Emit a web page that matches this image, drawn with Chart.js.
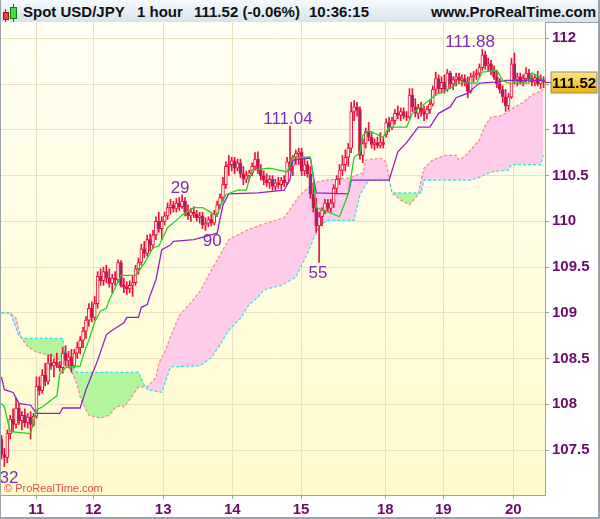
<!DOCTYPE html>
<html><head><meta charset="utf-8">
<script src="https://cdn.jsdelivr.net/npm/chart.js@4/dist/chart.umd.min.js"></script>
<style>
html,body{margin:0;padding:0;background:#fff;width:600px;height:519px;overflow:hidden;font-family:"Liberation Sans",Arial,sans-serif;}
#hdr{position:absolute;left:0;top:0;width:600px;height:23px;background:linear-gradient(#f6fafd,#d6e4ec);border-bottom:1px solid #9aa4aa;box-sizing:border-box;}
#hdr span.t{position:absolute;top:3px;font-weight:bold;font-size:15px;color:#111;line-height:17px;white-space:nowrap;}
.cw{position:absolute;width:1px;}
.cb{position:absolute;box-sizing:border-box;}
#wrap{position:absolute;left:0;top:22px;width:600px;height:497px;}
#frame{position:absolute;left:0;top:0;width:600px;height:519px;box-sizing:border-box;border-left:1px solid #9aa4aa;border-right:2px solid #9aa4aa;border-bottom:2px solid #9aa4aa;pointer-events:none;}
</style></head>
<body>
<div id="hdr">
  <div class="cw" style="left:5px;top:9px;height:13px;background:#c02020"></div>
  <div class="cb" style="left:3px;top:12px;width:6px;height:8px;background:#f04040;border:1px solid #a01010"></div>
  <div class="cw" style="left:13px;top:4px;height:18px;background:#108010"></div>
  <div class="cb" style="left:10px;top:7px;width:7px;height:12px;background:#40e040;border:1px solid #108010"></div>
  <span class="t" style="left:23px">Spot USD/JPY</span>
  <span class="t" style="left:137px">1 hour</span>
  <span class="t" style="left:194px">111.52 (-0.06%)</span>
  <span class="t" style="left:309px">10:36:15</span>
  <span class="t" style="right:4px">www.ProRealTime.com</span>
</div>
<div id="wrap"><canvas id="c" width="600" height="497"></canvas></div>
<div id="frame"></div>
<script>
// ---- Data (hourly candles, slot index = hour) ----
const dayTickSlots = [11.9, 31.5, 55.5, 79.2, 102.8, 131.7, 151.6, 175.6];
const dayLabels = ['11','12','13','14','15','18','19','20'];
const priceTicks = [107.5,108,108.5,109,109.5,110,110.5,111,111.5,112];

const opens = [107.62,107.45,107.42,107.68,107.84,107.78,107.96,107.82,107.88,107.80,107.86,107.78,107.87,108.20,108.15,108.32,108.25,108.45,108.42,108.46,
108.43,108.40,108.56,108.48,108.52,108.42,108.56,108.62,108.70,108.80,108.92,109.05,108.95,109.10,109.40,109.35,109.45,109.38,109.32,109.38,
109.36,109.55,109.30,109.28,109.26,109.30,109.33,109.48,109.55,109.70,109.65,109.80,109.74,109.85,110.00,109.92,110.00,110.06,110.15,110.18,
110.14,110.20,110.16,110.22,110.10,110.06,110.10,110.08,110.04,110.06,109.96,109.98,110.02,109.98,110.08,110.18,110.26,110.40,110.60,110.62,
110.66,110.58,110.64,110.52,110.46,110.50,110.53,110.60,110.68,110.56,110.50,110.45,110.42,110.46,110.38,110.42,110.40,110.45,110.42,110.65,
110.60,110.70,110.74,110.76,110.55,110.62,110.52,110.30,110.15,109.95,110.05,110.12,110.20,110.14,110.20,110.36,110.46,110.56,110.62,110.70,
110.80,111.20,111.25,111.22,110.72,110.85,110.98,110.92,110.84,110.86,110.83,110.86,110.95,111.08,111.02,111.10,111.18,111.16,111.20,111.15,
111.14,111.38,111.25,111.18,111.24,111.20,111.17,111.22,111.28,111.44,111.56,111.45,111.52,111.44,111.62,111.50,111.55,111.58,111.54,111.56,
111.52,111.42,111.58,111.60,111.62,111.68,111.82,111.70,111.72,111.65,111.58,111.50,111.44,111.36,111.26,111.36,111.72,111.55,111.58,111.52,
111.56,111.62,111.55,111.52,111.57,111.50,111.55];
const highs = [107.66,107.52,107.72,107.88,107.95,108.07,108.00,107.92,107.95,107.90,107.92,107.90,108.30,108.30,108.38,108.45,108.54,108.55,108.50,108.56,
108.47,108.62,108.64,108.58,108.60,108.60,108.68,108.74,108.84,108.96,109.10,109.12,109.18,109.45,109.48,109.50,109.52,109.48,109.42,109.45,
109.58,109.57,109.38,109.34,109.35,109.40,109.52,109.60,109.75,109.78,109.85,109.86,109.90,110.05,110.10,110.05,110.10,110.20,110.24,110.22,
110.25,110.26,110.29,110.26,110.18,110.14,110.16,110.12,110.10,110.10,110.04,110.05,110.08,110.12,110.22,110.30,110.48,110.65,110.72,110.70,
110.70,110.68,110.68,110.60,110.55,110.56,110.64,110.75,110.76,110.62,110.55,110.52,110.50,110.50,110.46,110.48,110.48,110.50,110.70,111.04,
110.72,110.78,110.80,110.80,110.68,110.66,110.60,110.42,110.25,110.10,110.15,110.24,110.24,110.24,110.40,110.50,110.62,110.72,110.78,110.85,
111.30,111.32,111.30,111.25,110.90,111.02,111.08,110.98,110.90,110.92,110.97,110.92,111.12,111.14,111.14,111.22,111.26,111.24,111.24,111.20,
111.45,111.45,111.34,111.28,111.30,111.26,111.26,111.32,111.48,111.63,111.60,111.58,111.60,111.66,111.64,111.58,111.62,111.62,111.60,111.60,
111.58,111.62,111.64,111.66,111.72,111.88,111.86,111.78,111.76,111.70,111.64,111.56,111.48,111.44,111.40,111.78,111.84,111.62,111.62,111.60,
111.68,111.66,111.60,111.60,111.64,111.60,111.58];
const lows = [107.40,107.32,107.36,107.62,107.70,107.74,107.78,107.72,107.75,107.74,107.62,107.76,107.85,108.10,108.12,108.20,108.22,108.38,108.30,108.40,
108.36,108.34,108.42,108.40,108.35,108.40,108.50,108.55,108.62,108.72,108.85,108.90,108.92,109.05,109.30,109.30,109.33,109.28,109.22,109.30,
109.33,109.28,109.22,109.20,109.22,109.18,109.30,109.42,109.52,109.60,109.62,109.68,109.70,109.80,109.88,109.80,109.96,110.02,110.08,110.10,
110.10,110.12,110.14,110.06,110.02,110.00,110.04,110.00,109.98,109.92,109.90,109.94,109.95,109.96,110.05,110.14,110.22,110.36,110.50,110.55,
110.52,110.55,110.48,110.40,110.42,110.44,110.50,110.56,110.52,110.45,110.40,110.38,110.36,110.34,110.34,110.36,110.35,110.38,110.40,110.55,
110.50,110.62,110.62,110.50,110.50,110.48,110.25,110.10,109.88,109.55,109.95,110.08,110.10,110.10,110.15,110.30,110.40,110.50,110.55,110.60,
110.75,111.10,111.15,110.68,110.64,110.80,110.88,110.80,110.78,110.80,110.80,110.80,110.92,110.98,111.00,111.06,111.12,111.10,111.12,111.10,
111.12,111.20,111.14,111.12,111.15,111.10,111.12,111.18,111.26,111.38,111.40,111.40,111.40,111.42,111.45,111.44,111.48,111.50,111.48,111.48,
111.35,111.40,111.52,111.55,111.58,111.65,111.66,111.64,111.60,111.55,111.46,111.40,111.30,111.20,111.22,111.34,111.50,111.48,111.50,111.48,
111.52,111.52,111.48,111.48,111.48,111.45,111.46];
const closes = [107.45,107.42,107.68,107.84,107.78,107.96,107.82,107.88,107.80,107.86,107.78,107.87,108.20,108.15,108.32,108.25,108.45,108.42,108.46,108.43,
108.40,108.56,108.48,108.52,108.42,108.56,108.62,108.70,108.80,108.92,109.05,108.95,109.10,109.40,109.35,109.45,109.38,109.32,109.38,109.36,
109.55,109.30,109.28,109.26,109.30,109.33,109.48,109.55,109.70,109.65,109.80,109.74,109.85,110.00,109.92,110.00,110.06,110.15,110.18,110.14,
110.20,110.16,110.22,110.10,110.06,110.10,110.08,110.04,110.06,109.96,109.98,110.02,109.98,110.08,110.18,110.26,110.40,110.60,110.62,110.66,
110.58,110.64,110.52,110.46,110.50,110.53,110.60,110.68,110.56,110.50,110.45,110.42,110.46,110.38,110.42,110.40,110.45,110.42,110.65,110.60,
110.70,110.74,110.76,110.55,110.62,110.52,110.30,110.15,109.95,110.05,110.12,110.20,110.14,110.20,110.36,110.46,110.56,110.62,110.70,110.80,
111.20,111.25,111.22,110.72,110.85,110.98,110.92,110.84,110.86,110.83,110.86,110.84,111.08,111.02,111.10,111.18,111.16,111.20,111.15,111.14,
111.38,111.25,111.18,111.24,111.20,111.17,111.22,111.28,111.44,111.56,111.45,111.52,111.44,111.62,111.50,111.55,111.58,111.54,111.56,111.52,
111.42,111.58,111.60,111.62,111.68,111.82,111.70,111.72,111.65,111.58,111.50,111.44,111.36,111.26,111.36,111.72,111.55,111.58,111.52,111.56,
111.62,111.55,111.52,111.57,111.50,111.55,111.52];

// Ichimoku lines: [slot, price]
const tenkan = [[0,108.01],[1,107.97],[3,107.70],[10,107.68],[12,107.94],[14,107.97],[18,108.07],[19,108.09],[20,108.33],[22,108.40],[27,108.42],[28,108.53],[29,108.62],[30,108.70],[32,108.90],[34,109.02],[36,109.05],[37,109.14],[40,109.34],[41,109.41],[46,109.41],[49,109.54],[52,109.71],[54,109.73],[57,109.93],[60,110.01],[62,110.07],[66,110.15],[69,110.15],[74,110.06],[75,110.16],[77,110.29],[81,110.34],[84,110.34],[86,110.56],[92,110.58],[98,110.54],[100,110.70],[106,110.70],[107,110.48],[108,110.15],[113,110.09],[116,110.05],[119,110.30],[121,110.70],[123,110.75],[124,110.94],[126,110.99],[131,110.92],[133,111.03],[139,111.03],[141,111.18],[145,111.28],[149,111.38],[155,111.47],[156,111.51],[163,111.51],[165,111.63],[170,111.65],[172,111.54],[174,111.51],[181,111.51],[182,111.62],[185,111.57],[186,111.54]];
const kijun = [[0,108.30],[1,108.16],[4,108.13],[6,108.01],[10,107.99],[12,107.90],[20,107.90],[21,107.96],[27,107.96],[29,108.16],[33,108.48],[36,108.76],[38,108.81],[42,108.89],[43,108.95],[47,108.95],[48,109.06],[50,109.09],[51,109.19],[53,109.36],[54,109.52],[55,109.69],[58,109.74],[59,109.78],[66,109.80],[74,109.87],[76,110.18],[78,110.30],[88,110.31],[97,110.34],[99,110.45],[100,110.67],[106,110.69],[108,110.31],[119,110.30],[120,110.45],[133,110.45],[136,110.76],[139,110.86],[143,111.03],[147,111.03],[150,111.18],[154,111.25],[156,111.35],[160,111.40],[164,111.51],[170,111.52],[173,111.54],[186,111.54]];
const spanA = [[0,109.00],[3,109.00],[5,108.94],[6,108.81],[7,108.72],[9,108.63],[12,108.57],[16,108.54],[19,108.51],[21,108.46],[24,108.37],[26,108.21],[27,108.08],[29,107.94],[30,107.88],[34,107.85],[37,107.88],[39,107.96],[41,107.99],[42,107.97],[44,108.05],[47,108.19],[50,108.19],[53,108.29],[54,108.45],[56,108.57],[58,108.74],[61,108.97],[65,109.11],[68,109.23],[73,109.52],[78,109.80],[84,109.90],[89,109.96],[97,110.04],[102,110.27],[107,110.42],[111,110.45],[119,110.47],[124,110.53],[125,110.67],[130,110.69],[132,110.65],[133,110.48],[134,110.31],[137,110.23],[140,110.18],[143,110.29],[144,110.45],[145,110.58],[148,110.67],[152,110.72],[156,110.72],[157,110.67],[159,110.71],[161,110.78],[164,110.89],[166,111.05],[168,111.14],[171,111.15],[173,111.18],[176,111.25],[179,111.30],[182,111.38],[186,111.44]];
const spanB = [[0,109.00],[3,109.00],[6,108.75],[7,108.72],[21,108.72],[22,108.48],[26,108.35],[47,108.35],[49,108.21],[50,108.16],[55,108.13],[58,108.41],[68,108.42],[72,108.51],[75,108.65],[78,108.81],[82,108.94],[85,109.09],[88,109.17],[90,109.25],[96,109.30],[101,109.39],[105,109.65],[107,109.80],[109,109.95],[112,110.01],[121,110.01],[123,110.29],[125,110.40],[126,110.45],[133,110.45],[134,110.31],[144,110.31],[145,110.45],[161,110.45],[164,110.48],[168,110.54],[174,110.56],[175,110.62],[185,110.62],[186,110.72]];

// High/low annotations: [slot, price, text, side]
const hiLoNotes = [[2.6,107.32,'32','below'],[61.3,110.29,'29','above'],[72.3,109.90,'90','below'],[98.3,111.04,'111.04','above'],[108.6,109.55,'55','below'],[160.8,111.88,'111.88','above']];
const lastPrice = 111.52;

// ---- build datasets ----
const slots = closes.map((_, i) => i);
const pts = arr => arr.map(p => ({x: p[0], y: p[1]}));
const RED = '#ee0f3c';

const bgPlugin = {
  id: 'bg',
  beforeDraw(chart) {
    const {ctx, chartArea: a} = chart;
    const g = ctx.createLinearGradient(0, a.top, 0, a.bottom);
    g.addColorStop(0, '#fffff4');
    g.addColorStop(1, '#fffbcc');
    ctx.save(); ctx.fillStyle = g; ctx.fillRect(a.left, a.top, a.right - a.left, a.bottom - a.top); ctx.restore();
  },
  afterDraw(chart) {
    const {ctx, chartArea: a, scales: {x, y}} = chart;
    ctx.save();
    // notes
    ctx.font = '17px "Liberation Sans", Arial, sans-serif';
    ctx.fillStyle = '#7d2cc0';
    ctx.textAlign = 'center';
    ctx.textBaseline = 'alphabetic';
    for (const n of hiLoNotes) {
      const px = x.getPixelForValue(n[0]);
      const py = y.getPixelForValue(n[1]);
      ctx.fillText(n[2], px, n[3] === 'above' ? py - 2 : py + 16);
    }
    // copyright
    ctx.font = '11px "Liberation Sans", Arial, sans-serif';
    ctx.fillStyle = '#e2504a';
    ctx.textAlign = 'left';
    ctx.fillText('\u00a9 ProRealTime.com', a.left + 4, a.bottom - 3);
    // price tag
    const py = Math.round(y.getPixelForValue(lastPrice)) + 0.5;
    ctx.strokeStyle = '#5a2a6a'; ctx.lineWidth = 1;
    ctx.beginPath(); ctx.moveTo(a.right, py); ctx.lineTo(a.right + 7, py); ctx.stroke();
    const bx = a.right + 6, bw = 46, bh = 21, by = py - 10.5;
    const g = ctx.createLinearGradient(0, by, 0, by + bh);
    g.addColorStop(0, '#ffe680'); g.addColorStop(1, '#f0b400');
    ctx.fillStyle = g; ctx.fillRect(bx, by, bw, bh);
    ctx.strokeStyle = '#8c8c8c'; ctx.strokeRect(bx, by, bw, bh);
    ctx.fillStyle = '#000';
    ctx.font = 'bold 15px "Liberation Sans", Arial, sans-serif';
    ctx.textAlign = 'center'; ctx.textBaseline = 'middle';
    ctx.fillText(lastPrice.toFixed(2), bx + bw / 2, py + 1);
    ctx.restore();
  }
};

const axisFont = {family: '"Liberation Sans", Arial, sans-serif', size: 15, weight: 'bold'};
const GRID = '#e8e3bc';
const AXIS = '#9aa4a8';

new Chart(document.getElementById('c'), {
  type: 'bar',
  data: {
    datasets: [
      {type: 'line', label: 'Tenkan', data: pts(tenkan), borderColor: '#1fd41f', borderWidth: 1.3, pointRadius: 0, tension: 0, fill: false, order: 1},
      {type: 'line', label: 'Kijun', data: pts(kijun), borderColor: '#8e22c8', borderWidth: 1.3, pointRadius: 0, tension: 0, fill: false, order: 1},
      {type: 'bar', label: 'Body', data: slots.map(i => ({x: i, y: [opens[i], closes[i]]})), barThickness: 3, grouped: false,
        borderWidth: 1, borderColor: RED, borderSkipped: false,
        backgroundColor: c => (closes[c.dataIndex] < opens[c.dataIndex] ? '#8a2a7a' : '#fffbe4'), order: 2},
      {type: 'bar', label: 'Wick', data: slots.map(i => ({x: i, y: [lows[i], highs[i]]})), barThickness: 1, grouped: false,
        backgroundColor: RED, borderWidth: 0, order: 3},
      {type: 'line', label: 'Span A', data: pts(spanA), borderColor: '#ef8a86', borderWidth: 1.2, borderDash: [3, 2], pointRadius: 0, tension: 0,
        fill: {target: 5, above: '#ffcbea', below: '#b2f59a'}, order: 5},
      {type: 'line', label: 'Span B', data: pts(spanB), borderColor: '#2ee0ee', borderWidth: 1.2, borderDash: [3, 2], pointRadius: 0, tension: 0, fill: false, order: 4}
    ]
  },
  options: {
    responsive: false, devicePixelRatio: 1, animation: false, events: [],
    layout: {padding: 0},
    plugins: {legend: {display: false}, tooltip: {enabled: false}, title: {display: false}},
    scales: {
      x: {
        type: 'linear', min: -0.5, max: 186.5, offset: false,
        afterBuildTicks: s => { s.ticks = dayTickSlots.map(v => ({value: v})); },
        afterFit: s => { s.height = 24; s.paddingLeft = 0; s.paddingRight = 0; },
        ticks: {autoSkip: false, maxRotation: 0, minRotation: 0, padding: 2, color: '#6a0a6a', font: axisFont,
          callback: (v, i) => dayLabels[i]},
        grid: {color: GRID, lineWidth: 1, tickLength: 4, tickColor: AXIS, offset: false},
        border: {display: true, color: AXIS, width: 1}
      },
      y: {
        type: 'linear', position: 'right', min: 107.009, max: 112.178, beginAtZero: false,
        afterBuildTicks: s => { s.ticks = priceTicks.map(v => ({value: v})); },
        afterFit: s => { s.width = 55; s.paddingTop = 0; s.paddingBottom = 0; },
        ticks: {padding: 3, color: '#6a0a6a', font: axisFont, callback: v => (v === 111.5 ? '' : String(v))},
        grid: {color: GRID, lineWidth: 1, tickLength: 4, tickColor: AXIS},
        border: {display: true, color: AXIS, width: 1}
      }
    }
  },
  plugins: [bgPlugin]
});
</script>
</body></html>
